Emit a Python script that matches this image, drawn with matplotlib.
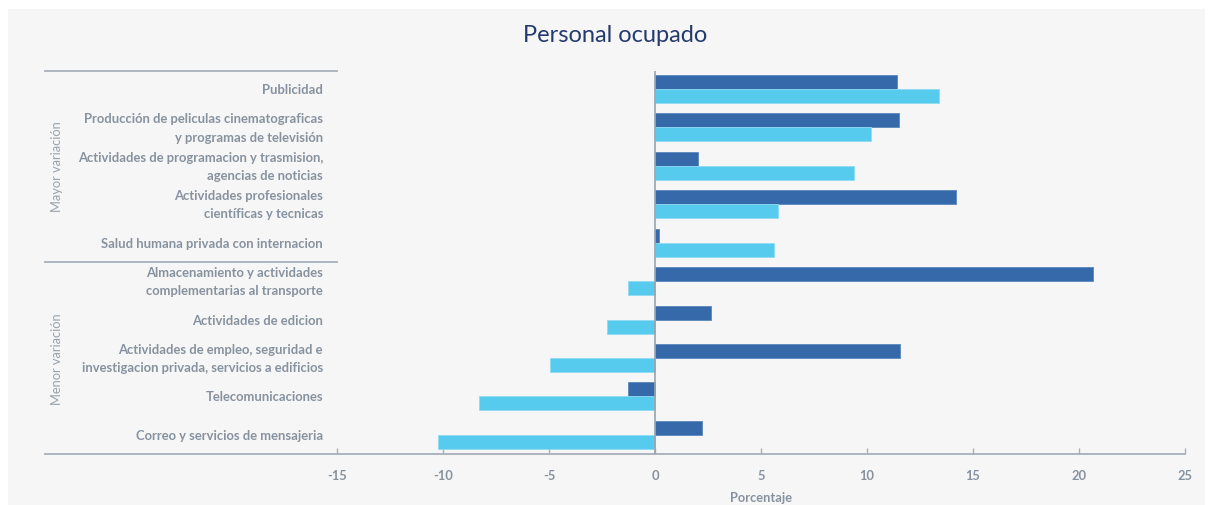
import matplotlib
matplotlib.use("Agg")
import matplotlib.pyplot as plt
from matplotlib.patches import Rectangle
import numpy as np

categories = [
    "Publicidad",
    "Producción de peliculas cinematograficas\ny programas de televisión",
    "Actividades de programacion y trasmision,\nagencias de noticias",
    "Actividades profesionales\ncientíficas y tecnicas",
    "Salud humana privada con internacion",
    "Almacenamiento y actividades\ncomplementarias al transporte",
    "Actividades de edicion",
    "Actividades de empleo, seguridad e\ninvestigacion privada, servicios a edificios",
    "Telecomunicaciones",
    "Correo y servicios de mensajeria",
]
serie_oscura = [11.4, 11.5, 2.0, 14.2, 0.2, 20.65, 2.65, 11.55, -1.3, 2.2]
serie_clara = [13.4, 10.2, 9.4, 5.8, 5.6, -1.3, -2.25, -4.95, -8.3, -10.25]
grupos = ["Mayor variación", "Menor variación"]
xticks = [-15, -10, -5, 0, 5, 10, 15, 20, 25]

plt.rcParams['font.family'] = ['Lato', 'DejaVu Sans']

W, H = 1213, 506
fig = plt.figure(figsize=(W / 100, H / 100), dpi=100)
fig.patch.set_facecolor("white")
fig.patches.append(Rectangle((8 / W, 0), (1205 - 8) / W, (H - 10) / H,
                             transform=fig.transFigure, facecolor="#f6f6f6",
                             edgecolor="none", zorder=-5))

ax = fig.add_axes([45 / W, 1 - 455 / H, (1185 - 45) / W, (455 - 72) / H])
ax.set_facecolor("none")
ax.set_zorder(2)

dark = "#3569aa"
light = "#56cbee"
txt = "#8792a0"
linec = "#a7b0ba"

y = np.arange(len(categories))
h = 0.365
ax.barh(y - h / 2, serie_oscura, height=h, color=dark, edgecolor="#5a86bd", linewidth=0.6, zorder=3)
ax.barh(y + h / 2, serie_clara, height=h, color=light, edgecolor="#8fdcf3", linewidth=0.6, zorder=3)

xmin = -28.79
ax.set_xlim(xmin, 25)
ax.set_ylim(9.5, -0.47)

for s in ["top", "right", "left"]:
    ax.spines[s].set_visible(False)
ax.spines["bottom"].set_color(linec)
ax.spines["bottom"].set_linewidth(1.3)

ax.set_yticks([])
ax.set_xticks(xticks)
ax.set_xticklabels([str(t) for t in xticks], fontsize=9.3, fontweight="bold", color=txt)
ax.tick_params(axis="x", direction="in", length=4, width=1, color=linec, pad=11)

ax.axvline(0, color="#9aa3ad", linewidth=1.2, zorder=4)

# separator lines
ax.plot([xmin, -15], [-0.47, -0.47], color=linec, lw=1.3, clip_on=False)
ax.plot([xmin, -15], [4.5, 4.5], color=linec, lw=1.3, clip_on=False)

for yi, lab in zip(y, categories):
    ax.text(-15.67, yi, lab, ha="right", va="center", fontsize=9.4, fontweight="bold",
            color=txt, linespacing=1.62)

ax.text(-28.22, 2, grupos[0], rotation=90, ha="center", va="center", fontsize=9.3, color="#98a2ac")
ax.text(-28.22, 7, grupos[1], rotation=90, ha="center", va="center", fontsize=9.3, color="#98a2ac")

ax.text(5, 10.63, "Porcentaje", ha="center", va="center", fontsize=9.3, fontweight="bold", color=txt)

fig.text(615 / W, 1 - 35 / H, "Personal ocupado", ha="center", va="center",
         fontsize=17, color="#253b6e")

fig.savefig("out.png", dpi=100, facecolor=fig.get_facecolor())
